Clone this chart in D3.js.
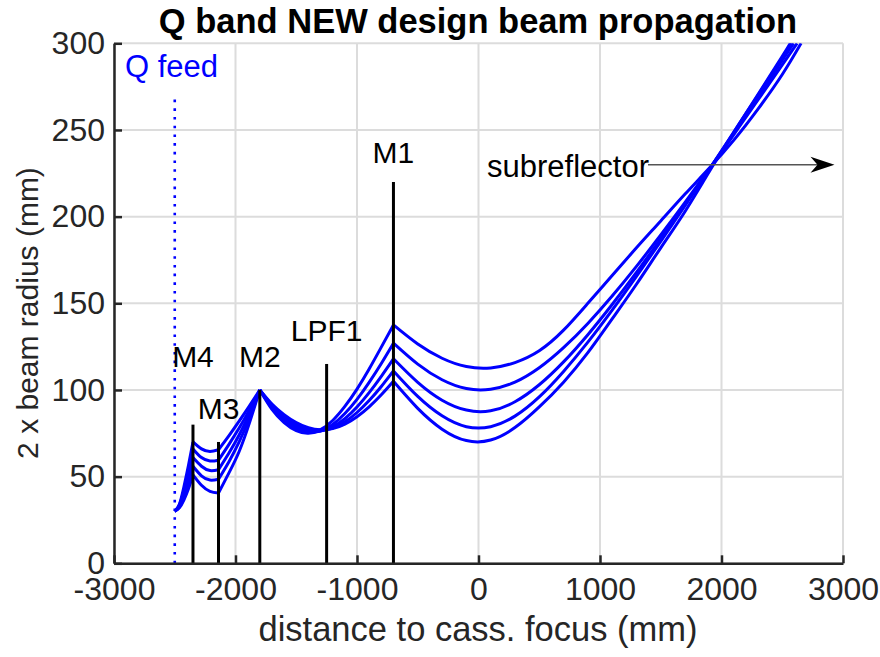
<!DOCTYPE html>
<html>
<head>
<meta charset="utf-8">
<script src="https://d3js.org/d3.v7.min.js"></script>
<style>
body { margin: 0; background: #fff; }
text { font-family: "Liberation Sans", Arial, sans-serif; }
</style>
</head>
<body>
<svg width="880" height="657"></svg>
<script>
// axis ticks
var xTicks = [-3000, -2000, -1000, 0, 1000, 2000, 3000];
var yTicks = [0, 50, 100, 150, 200, 250, 300];

// optical elements: position (mm) and drawn height
var elemNames = ["M4", "M3", "M2", "LPF1", "M1"];
var elemX = [-2350, -2140, -1800, -1250, -700];
var elemH = [80, 70, 100, 115, 220];
var labelY = [113, 83, 113, 128, 231];   // label baselines, data units

var feedX = -2500;
var feedTop = 271;

// beam 2w values, 5 frequencies, one segment between elements
var xFeedM4 = [-2500, -2462, -2425, -2387, -2350];
var wFeedM4 = [
  [30, 34, 44, 56.5, 70],
  [30, 33.5, 42, 53, 66],
  [30, 33, 40, 49.5, 61],
  [30, 32.5, 38.5, 46.5, 56],
  [30, 32, 36.5, 43, 51]
];
var xM4M3 = [-2350, -2280, -2210, -2140];
var wM4M3 = [
  [70, 66, 64.5, 65.5],
  [66, 61, 59, 59.5],
  [61, 56, 53.5, 54],
  [56, 50.5, 48, 48.5],
  [51, 45, 41.5, 40.5]
];
var xM3M2 = [-2140, -2055, -1970, -1885, -1800];
var wM3M2 = [
  [65.5, 73.5, 82, 90.8, 100],
  [59.5, 68.5, 78, 88.5, 100],
  [54, 63.5, 74, 86.5, 100],
  [48.5, 58.5, 70, 84, 100],
  [40.5, 52, 64.5, 81, 100]
];
var xM2M1 = [-1800, -1700, -1600, -1500, -1400, -1300, -1200, -1100, -1000, -900, -800, -700];
var wM2M1 = [
  [100, 88.8, 81.2, 76.5, 75.0, 77.1, 82.4, 90.5, 100.5, 112.1, 124.7, 137.5],
  [100, 89.8, 82.6, 77.7, 75.6, 76.4, 80.1, 86.4, 94.6, 104.4, 115.3, 127],
  [100, 90.5, 83.8, 78.9, 76.3, 76.3, 78.8, 83.5, 90.2, 98.5, 107.9, 118],
  [100, 91.2, 84.8, 80.1, 77.2, 76.5, 78.0, 81.6, 87.0, 93.9, 102.0, 111],
  [100, 91.9, 85.8, 81.2, 78.2, 77.0, 77.7, 80.3, 84.6, 90.3, 97.2, 105]
];
var xM1Sub = [-700, -500, -300, -100, 100, 300, 500, 700, 900, 1100, 1300, 1500, 1700, 1900, 2100, 2300, 2500];
var xEnd = [2655, 2622, 2593, 2577, 2566];
var wM1Sub = [
  [137.5, 126.5, 118.3, 113.5, 112.7, 115.8, 122.6, 134.5, 150, 166, 182, 197.5, 213, 228, 244, 262, 282, 300],
  [127, 114.9, 105.9, 100.8, 100.4, 104.5, 112.8, 124.4, 138.4, 154.2, 171.3, 189.4, 208.2, 227.5, 247.2, 267.3, 287.5, 300],
  [118, 104.4, 94.1, 88.4, 88.0, 93.2, 103.0, 116.2, 131.9, 149.3, 167.8, 187.2, 207.1, 227.4, 248.1, 269.0, 290.2, 300],
  [111, 96.3, 85.1, 78.8, 78.8, 84.9, 96.0, 110.7, 127.6, 146.1, 165.6, 185.7, 206.3, 227.3, 248.6, 270.0, 291.6, 300],
  [105, 89.4, 77.4, 70.8, 71.1, 78.3, 90.2, 104.5, 121.5, 141, 161, 182, 203, 226, 248.5, 270.5, 292.5, 300]
];

// subreflector arrow
var arrowX = [1395, 2930];
var arrowY = 230;

var svg = d3.select("svg");
var L = 114, R = 843, T = 43.3, B = 563.3;
var x = d3.scaleLinear().domain([-3000, 3000]).range([L, R]);
var y = d3.scaleLinear().domain([0, 300]).range([B, T]);

// grid
var grid = svg.append("g").attr("stroke", "#dcdcdc").attr("stroke-width", 2);
grid.selectAll("line.gx").data(xTicks).enter().append("line")
  .attr("x1", d => x(d)).attr("x2", d => x(d)).attr("y1", T).attr("y2", B);
grid.selectAll("line.gy").data(yTicks).enter().append("line")
  .attr("x1", L).attr("x2", R).attr("y1", d => y(d)).attr("y2", d => y(d));

svg.append("clipPath").attr("id", "plot").append("rect")
  .attr("x", L).attr("y", T).attr("width", R - L).attr("height", B - T);

// beams
var line = d3.line().x(d => x(d[0])).y(d => y(d[1])).curve(d3.curveNatural);
var segs = [[xFeedM4, wFeedM4], [xM4M3, wM4M3], [xM3M2, wM3M2], [xM2M1, wM2M1]];
var beams = svg.append("g").attr("clip-path", "url(#plot)")
  .attr("fill", "none").attr("stroke", "#0000ff").attr("stroke-width", 3);
segs.forEach(function(s) {
  s[1].forEach(function(w) {
    beams.append("path").attr("d", line(w.map((v, i) => [s[0][i], v])));
  });
});
wM1Sub.forEach(function(w, k) {
  var xs = xM1Sub.concat([xEnd[k]]);
  beams.append("path").attr("d", line(w.map((v, i) => [xs[i], v])));
});

// feed
svg.append("line")
  .attr("x1", x(feedX)).attr("x2", x(feedX)).attr("y1", y(0)).attr("y2", y(feedTop))
  .attr("stroke", "#0000ff").attr("stroke-width", 2.6).attr("stroke-dasharray", "2.6 6.1");
svg.append("text").attr("x", 125).attr("y", 77)
  .attr("fill", "#0000ff").attr("font-size", 31).text("Q feed");

// elements
svg.selectAll("line.el").data(elemX).enter().append("line")
  .attr("x1", d => x(d)).attr("x2", d => x(d))
  .attr("y1", y(0)).attr("y2", (d, i) => y(elemH[i]))
  .attr("stroke", "#000").attr("stroke-width", 3);
svg.selectAll("text.el").data(elemNames).enter().append("text")
  .attr("x", (d, i) => x(elemX[i])).attr("y", (d, i) => y(labelY[i]))
  .attr("text-anchor", "middle").attr("font-size", 30).attr("fill", "#000").text(d => d);

// subreflector arrow
svg.append("text").attr("x", 487).attr("y", y(arrowY) + 12)
  .attr("font-size", 31).attr("fill", "#000").text("subreflector");
svg.append("line").attr("x1", x(arrowX[0])).attr("x2", x(arrowX[1]) - 10)
  .attr("y1", y(arrowY)).attr("y2", y(arrowY)).attr("stroke", "#555").attr("stroke-width", 1.5);
var tx = x(arrowX[1]), ty = y(arrowY);
svg.append("path")
  .attr("d", "M" + tx + "," + ty + "L" + (tx - 24) + "," + (ty - 8) + "L" + (tx - 17) + "," + ty + "L" + (tx - 24) + "," + (ty + 8) + "Z")
  .attr("fill", "#000");

// axes
var fmt = d => String(d);
var ax = svg.append("g").attr("transform", "translate(0," + B + ")")
  .call(d3.axisBottom(x).tickValues(xTicks).tickFormat(fmt).tickSize(-8).tickSizeOuter(0).tickPadding(14));
var ay = svg.append("g").attr("transform", "translate(" + L + ",0)")
  .call(d3.axisLeft(y).tickValues(yTicks).tickFormat(fmt).tickSize(-8).tickSizeOuter(0).tickPadding(9));
[ax, ay].forEach(function(a) {
  a.select(".domain").attr("stroke", "#262626").attr("stroke-width", 2.5);
  a.selectAll(".tick line").attr("stroke", "#262626").attr("stroke-width", 2.5);
  a.selectAll(".tick text").attr("font-size", 32).attr("fill", "#262626")
    .attr("font-family", "Liberation Sans, Arial, sans-serif");
});

// titles
svg.append("text").attr("x", 478).attr("y", 33).attr("text-anchor", "middle")
  .attr("font-size", 34.5).attr("font-weight", "bold").attr("fill", "#000")
  .text("Q band NEW design beam propagation");
svg.append("text").attr("x", 478).attr("y", 641).attr("text-anchor", "middle")
  .attr("font-size", 34.5).attr("fill", "#262626").text("distance to cass. focus (mm)");
svg.append("text").attr("transform", "translate(38,313) rotate(-90)")
  .attr("text-anchor", "middle").attr("font-size", 30).attr("fill", "#262626")
  .text("2 x beam radius (mm)");
</script>
</body>
</html>
